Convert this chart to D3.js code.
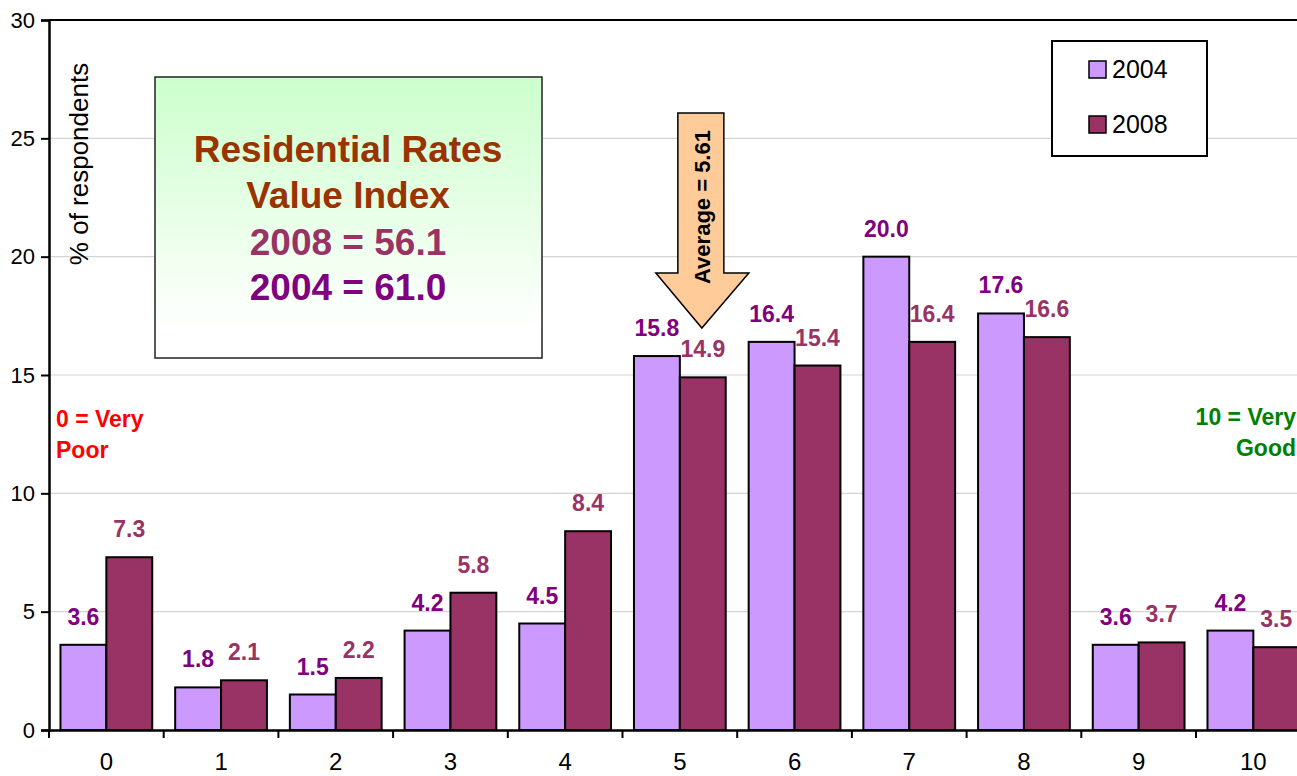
<!DOCTYPE html>
<html>
<head>
<meta charset="utf-8">
<script src="https://cdn.jsdelivr.net/npm/d3@7/dist/d3.min.js"></script>
<style>
  html, body { margin: 0; padding: 0; background: #fff; }
  svg { display: block; font-family: "Liberation Sans", Arial, sans-serif; }
</style>
</head>
<body>
<svg id="chart" width="1297" height="776"></svg>
<script>
// ---- data ----
const categories = ["0","1","2","3","4","5","6","7","8","9","10"];
const seriesNames = ["2004","2008"];
const values2004 = [3.6, 1.8, 1.5, 4.2, 4.5, 15.8, 16.4, 20.0, 17.6, 3.6, 4.2];
const values2008 = [7.3, 2.1, 2.2, 5.8, 8.4, 14.9, 15.4, 16.4, 16.6, 3.7, 3.5];
const yTicks = [0, 5, 10, 15, 20, 25, 30];
const yTitle = "% of respondents";
const boxLines = ["Residential Rates", "Value Index", "2008 = 56.1", "2004 = 61.0"];
const averageLabel = "Average = 5.61";
const leftNote = ["0 = Very", "Poor"];
const rightNote = ["10 = Very", "Good"];

// ---- styles ----
const fillColors = {"2004": "#CC99FF", "2008": "#993366"};
const labelColors = {"2004": "#800080", "2008": "#993366"};

const svg = d3.select("#chart");
svg.append("rect").attr("width", 1297).attr("height", 776).attr("fill", "#fff");

const plotLeft = 49, plotTop = 20, plotBottom = 730, band = 114.7;
const x0 = d3.scaleBand().domain(categories)
  .range([plotLeft, plotLeft + band * categories.length]).padding(0);
const x1 = d3.scaleBand().domain(seriesNames)
  .range([0, x0.bandwidth()]).paddingInner(0).paddingOuter(0.25);
const y = d3.scaleLinear().domain([0, 30]).range([plotBottom, plotTop]);

const rows = categories.map((c, i) => ({cat: c, vals: [
  {s: "2004", v: values2004[i]}, {s: "2008", v: values2008[i]}]}));

// gridlines
svg.append("g").selectAll("line").data(yTicks.filter(t => t > 0 && t < 30)).join("line")
  .attr("x1", plotLeft).attr("x2", 1297)
  .attr("y1", d => y(d)).attr("y2", d => y(d))
  .attr("stroke", "#d4d4d4").attr("stroke-width", 1.2);
// top border of plot area
svg.append("line").attr("x1", plotLeft).attr("x2", 1297)
  .attr("y1", y(30)).attr("y2", y(30)).attr("stroke", "#000").attr("stroke-width", 2);

// green text box
const defs = svg.append("defs");
const grad = defs.append("linearGradient").attr("id", "gbox")
  .attr("x1", 0).attr("y1", 0).attr("x2", 0).attr("y2", 1);
grad.append("stop").attr("offset", "0%").attr("stop-color", "#CCFFCC");
grad.append("stop").attr("offset", "90%").attr("stop-color", "#FFFFFF");
svg.append("rect").attr("x", 155).attr("y", 77).attr("width", 387).attr("height", 281)
  .attr("fill", "url(#gbox)").attr("stroke", "#222").attr("stroke-width", 1.5);
const boxColors = ["#993300", "#993300", "#993366", "#800080"];
const boxBase = [162, 208, 255, 300];
svg.append("g").selectAll("text").data(boxLines).join("text")
  .attr("x", 348).attr("y", (d, i) => boxBase[i])
  .attr("text-anchor", "middle").attr("font-weight", "bold").attr("font-size", 37)
  .attr("fill", (d, i) => boxColors[i]).text(d => d);

// bars
const gBars = svg.append("g").selectAll("g").data(rows).join("g")
  .attr("transform", d => `translate(${x0(d.cat)},0)`);
gBars.selectAll("rect").data(d => d.vals).join("rect")
  .attr("x", d => x1(d.s)).attr("width", x1.bandwidth())
  .attr("y", d => y(d.v)).attr("height", d => y(0) - y(d.v))
  .attr("fill", d => fillColors[d.s]).attr("stroke", "#000").attr("stroke-width", 2);
gBars.selectAll("text").data(d => d.vals).join("text")
  .attr("x", d => x1(d.s) + x1.bandwidth() / 2)
  .attr("y", d => y(d.v) - 20)
  .attr("text-anchor", "middle").attr("font-weight", "bold").attr("font-size", 23)
  .attr("fill", d => labelColors[d.s]).text(d => d3.format(".1f")(d.v));

// y axis
const yAxis = d3.axisLeft(y).tickValues(yTicks).tickSize(8).tickPadding(6).tickFormat(d3.format("d"));
const gy = svg.append("g").attr("transform", `translate(${plotLeft},0)`).call(yAxis);
gy.select(".domain").attr("stroke", "#000").attr("stroke-width", 2.5);
gy.selectAll(".tick line").attr("stroke", "#000").attr("stroke-width", 2);
gy.selectAll(".tick text").attr("font-size", 22).attr("fill", "#000")
  .attr("font-family", "'Liberation Sans', Arial, sans-serif");

// x axis
const xAxis = d3.axisBottom(x0).tickSize(0).tickPadding(0);
const gx = svg.append("g").attr("transform", `translate(0,${plotBottom})`).call(xAxis);
gx.select(".domain").attr("stroke", "#000").attr("stroke-width", 2.5);
gx.selectAll(".tick text").attr("font-size", 24).attr("fill", "#000").attr("dy", null)
  .attr("y", 40).attr("font-family", "'Liberation Sans', Arial, sans-serif");
// category boundary ticks
svg.append("g").selectAll("line").data(categories).join("line")
  .attr("x1", d => x0(d)).attr("x2", d => x0(d))
  .attr("y1", plotBottom).attr("y2", plotBottom + 8)
  .attr("stroke", "#000").attr("stroke-width", 2);

// y title
svg.append("text").attr("transform", "translate(88,164) rotate(-90)")
  .attr("text-anchor", "middle").attr("font-size", 26).attr("fill", "#000").text(yTitle);

// arrow annotation
const ax = x0("5") + x0.bandwidth() / 2 + 22;
const arrowPts = [[ax - 24, 113], [ax + 22, 113], [ax + 22, 273], [ax + 47, 273],
  [ax, 328], [ax - 46, 273], [ax - 24, 273]];
svg.append("polygon").attr("points", arrowPts.map(p => p.join(",")).join(" "))
  .attr("fill", "#FFCC99").attr("stroke", "#000").attr("stroke-width", 1.5);
svg.append("text").attr("transform", `translate(${ax + 8},207) rotate(-90)`)
  .attr("text-anchor", "middle").attr("font-weight", "bold").attr("font-size", 22)
  .attr("fill", "#000").text(averageLabel);

// legend
svg.append("rect").attr("x", 1052).attr("y", 41).attr("width", 155).attr("height", 115)
  .attr("fill", "#fff").attr("stroke", "#000").attr("stroke-width", 2);
const lg = svg.append("g").selectAll("g").data(seriesNames).join("g")
  .attr("transform", (d, i) => `translate(1089,${61 + i * 55})`);
lg.append("rect").attr("width", 17).attr("height", 17)
  .attr("fill", d => fillColors[d]).attr("stroke", "#000").attr("stroke-width", 1.5);
lg.append("text").attr("x", 23).attr("y", 17).attr("font-size", 25).attr("fill", "#000").text(d => d);

// scale end notes
svg.append("g").selectAll("text").data(leftNote).join("text")
  .attr("x", 56).attr("y", (d, i) => 427 + i * 31)
  .attr("font-weight", "bold").attr("font-size", 23).attr("fill", "#FF0000").text(d => d);
svg.append("g").selectAll("text").data(rightNote).join("text")
  .attr("x", 1296).attr("y", (d, i) => 425 + i * 31).attr("text-anchor", "end")
  .attr("font-weight", "bold").attr("font-size", 23).attr("fill", "#008000").text(d => d);
</script>
</body>
</html>
